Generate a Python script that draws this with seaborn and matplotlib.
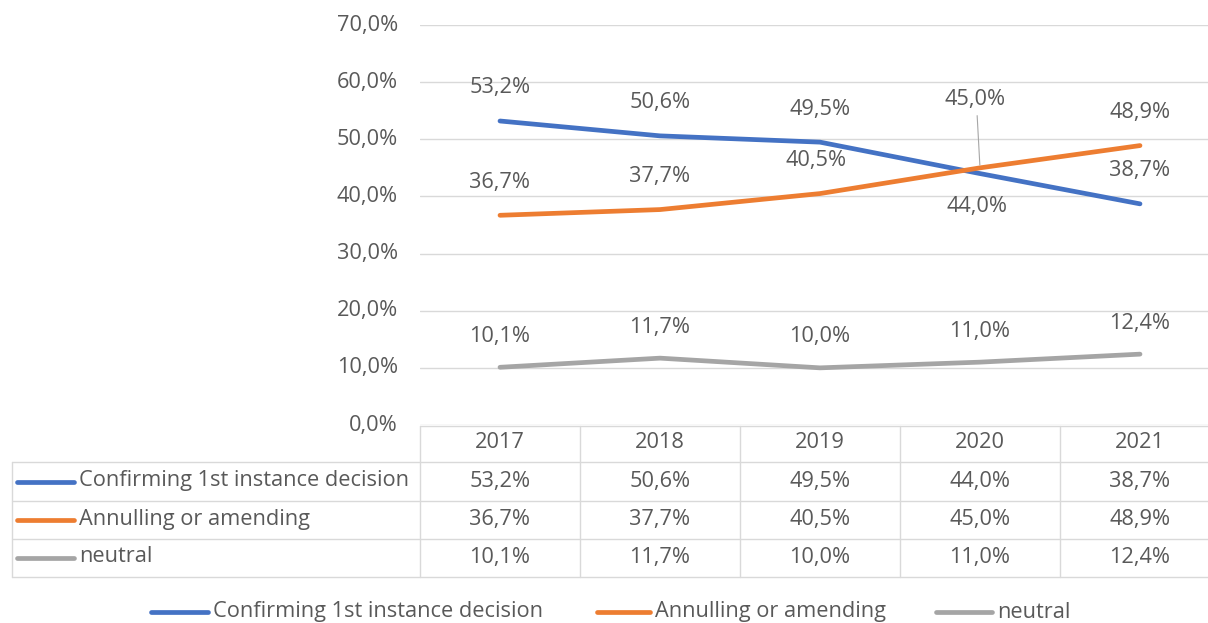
import pandas as pd
import seaborn as sns
import matplotlib.pyplot as plt
from matplotlib.lines import Line2D
from matplotlib.ticker import FuncFormatter

# data
years = ["2017", "2018", "2019", "2020", "2021"]
series = ["Confirming 1st instance decision", "Annulling or amending", "neutral"]
confirming = [53.2, 50.6, 49.5, 44.0, 38.7]
annulling = [36.7, 37.7, 40.5, 45.0, 48.9]
neutral = [10.1, 11.7, 10.0, 11.0, 12.4]
colors = ["#4472C4", "#ED7D31", "#A5A5A5"]

values = [confirming, annulling, neutral]
rows = []
for name, vals in zip(series, values):
    for i, v in enumerate(vals):
        rows.append({"pos": i, "year": years[i], "series": name, "value": v})
df = pd.DataFrame(rows)

sns.set_theme(style="white")
plt.rcParams["font.family"] = ["Open Sans", "DejaVu Sans"]
txt_col = "#595959"
grid_col = "#D9D9D9"
fs = 15.7

W, H = 1208, 623
fig = plt.figure(figsize=(W / 100, H / 100), dpi=100)


def fx(x):
    return x / W


def fy(y):
    return 1 - y / H


# plot area in pixel coords: x 420..1208, y 25..425
ax = fig.add_axes([fx(420), fy(425), fx(1208) - fx(420), fy(25) - fy(425)])
sns.lineplot(data=df, x="pos", y="value", hue="series", palette=colors,
             hue_order=series, linewidth=3.4, legend=False, ax=ax,
             solid_capstyle="round")
ax.set_xlim(-0.5, -0.5 + 788 / 160)
ax.set_ylim(0, 70)
ax.set_yticks(range(0, 71, 10))
ax.yaxis.set_major_formatter(FuncFormatter(lambda v, p: f"{v:.1f}%".replace(".", ",")))
ax.set_xticks([])
ax.set_xlabel("")
ax.set_ylabel("")
ax.grid(axis="y", color=grid_col, linewidth=1)
for s in ax.spines.values():
    s.set_visible(False)
ax.tick_params(axis="y", length=0, pad=16, labelsize=fs, labelcolor=txt_col)
for t in ax.get_yticklabels():
    t.set_verticalalignment("center")


def fmt(v):
    return f"{v:.1f}%".replace(".", ",")


# data labels (offsets in pixels)
offsets = {
    0: [(0, 33)] * 3 + [(-3, -33), (0, 33)],
    1: [(0, 33), (0, 33), (-4, 33), (-5, 68), (0, 33)],
    2: [(0, 31)] * 5,
}
for si, vals in enumerate(values):
    for i, v in enumerate(vals):
        dx, dy = offsets[si][i]
        ax.annotate(fmt(v), (i, v), xytext=(dx * 0.72, dy * 0.72),
                    textcoords="offset points", ha="center", va="center",
                    fontsize=fs, color=txt_col)
# leader line for 2020 annulling label
ax.annotate("", (3, annulling[3]), xytext=(-3 * 0.72, 55 * 0.72),
            textcoords="offset points",
            arrowprops=dict(arrowstyle="-", color="#A6A6A6", lw=0.8))

# data table
col_edges = [420, 580, 740, 900, 1060, 1220]
row_edges = [426, 462, 501, 539, 577]
# horizontal lines
fig.add_artist(Line2D([fx(420), fx(1208)], [fy(426), fy(426)], color=grid_col, lw=1))
for y in row_edges[1:]:
    fig.add_artist(Line2D([fx(12), fx(1208)], [fy(y), fy(y)], color=grid_col, lw=1))
# vertical lines
for x in col_edges[:-1]:
    fig.add_artist(Line2D([fx(x), fx(x)], [fy(426), fy(577)], color=grid_col, lw=1))
fig.add_artist(Line2D([fx(12), fx(12)], [fy(462), fy(577)], color=grid_col, lw=1))

for j, yr in enumerate(years):
    cx = (col_edges[j] + col_edges[j + 1]) / 2
    fig.text(fx(cx), fy(443), yr, ha="center", va="center", fontsize=fs, color=txt_col)
for r, (name, vals, c) in enumerate(zip(series, values, colors)):
    cy = (row_edges[r + 1] + row_edges[r + 2]) / 2
    fig.add_artist(Line2D([fx(17), fx(74)], [fy(cy), fy(cy)], color=c, lw=3.4,
                          solid_capstyle="round"))
    fig.text(fx(79), fy(cy - 1), name, ha="left", va="center", fontsize=fs, color=txt_col)
    for j, v in enumerate(vals):
        cx = (col_edges[j] + col_edges[j + 1]) / 2
        fig.text(fx(cx), fy(cy), fmt(v), ha="center", va="center", fontsize=fs, color=txt_col)

# bottom legend (sits right at the lower edge)
leg_y = 612
leg_items = [(151, 208, 213), (597, 650, 655), (936, 992, 997)]
for (x0, x1, xt), name, c in zip(leg_items, series, colors):
    fig.add_artist(Line2D([fx(x0), fx(x1)], [fy(leg_y), fy(leg_y)], color=c, lw=3.4,
                          solid_capstyle="round"))
    fig.text(fx(xt), fy(leg_y), name, ha="left", va="center", fontsize=fs, color=txt_col)

fig.savefig("out.png", dpi=100, facecolor="white")
